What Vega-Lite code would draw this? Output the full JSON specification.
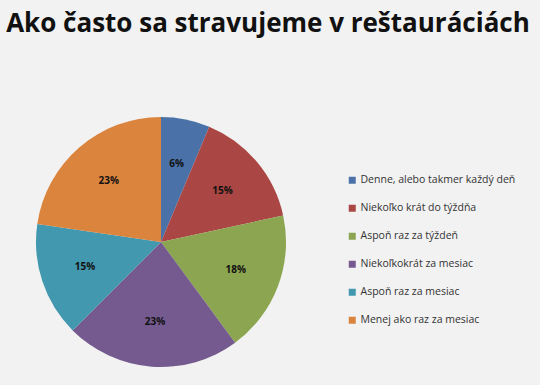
{
  "$schema": "https://vega.github.io/schema/vega-lite/v6.json",
  "autosize": "none",
  "width": 250,
  "height": 250,
  "padding": {"left": 36, "top": 117, "right": 254, "bottom": 18},
  "background": "#f2f2f2",
  "title": {
    "text": "Ako často sa stravujeme v reštauráciách",
    "font": "Open Sans",
    "fontSize": 26,
    "fontWeight": "bold",
    "color": "#111111",
    "anchor": "middle",
    "frame": "group",
    "dx": 107,
    "offset": 80
  },
  "data": {
    "values": [
      {"kategoria": "Denne, alebo takmer každý deň", "podiel": 6.3, "label": "6%", "poradie": 1},
      {"kategoria": "Niekoľko krát do týždňa", "podiel": 15.3, "label": "15%", "poradie": 2},
      {"kategoria": "Aspoň raz za týždeň", "podiel": 18.3, "label": "18%", "poradie": 3},
      {"kategoria": "Niekoľkokrát za mesiac", "podiel": 22.6, "label": "23%", "poradie": 4},
      {"kategoria": "Aspoň raz za mesiac", "podiel": 14.8, "label": "15%", "poradie": 5},
      {"kategoria": "Menej ako raz za mesiac", "podiel": 22.7, "label": "23%", "poradie": 6}
    ]
  },
  "encoding": {
    "theta": {"field": "podiel", "type": "quantitative", "stack": true},
    "order": {"field": "poradie", "type": "quantitative"},
    "color": {
      "field": "kategoria",
      "type": "nominal",
      "sort": ["Denne, alebo takmer každý deň", "Niekoľko krát do týždňa", "Aspoň raz za týždeň", "Niekoľkokrát za mesiac", "Aspoň raz za mesiac", "Menej ako raz za mesiac"],
      "scale": {
        "domain": ["Denne, alebo takmer každý deň", "Niekoľko krát do týždňa", "Aspoň raz za týždeň", "Niekoľkokrát za mesiac", "Aspoň raz za mesiac", "Menej ako raz za mesiac"],
        "range": ["#4a72a8", "#aa4643", "#8ba550", "#745a8f", "#4198af", "#db843d"]
      },
      "legend": {
        "title": null,
        "orient": "none",
        "legendX": 311,
        "legendY": 58,
        "symbolType": "square",
        "symbolSize": 49,
        "symbolStrokeWidth": 0,
        "labelFont": "Open Sans",
        "labelFontSize": 10.5,
        "labelColor": "#333333",
        "labelLimit": 300,
        "rowPadding": 17,
        "labelOffset": 3
      }
    }
  },
  "layer": [
    {
      "mark": {"type": "arc", "outerRadius": 125, "stroke": null}
    },
    {
      "mark": {"type": "text", "radius": 80, "font": "Open Sans", "fontSize": 10, "fontWeight": "bold", "color": "#111111"},
      "encoding": {
        "text": {"field": "label", "type": "nominal"},
        "color": {"value": "#111111"}
      }
    }
  ],
  "config": {"view": {"stroke": null}}
}
